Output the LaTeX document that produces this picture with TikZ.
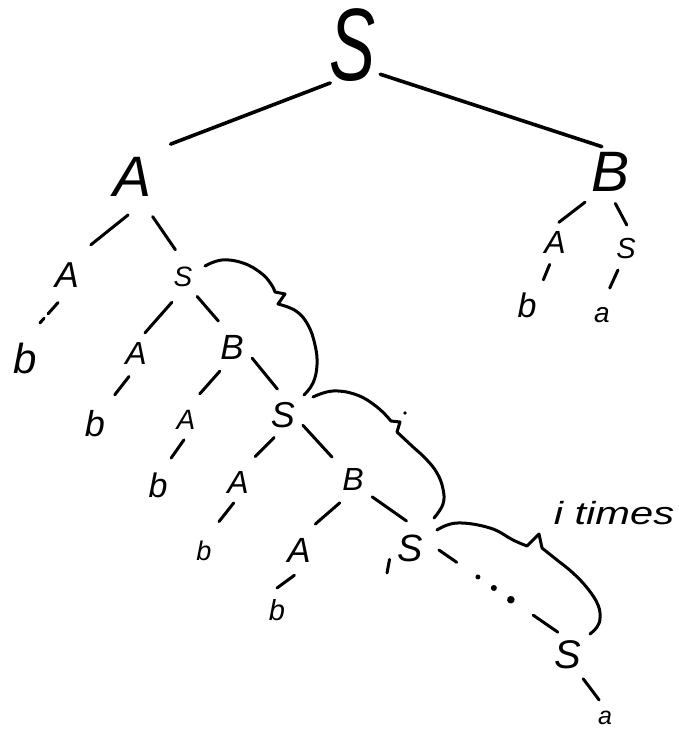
\documentclass[tikz,border=0pt]{standalone}
\usepackage{fontspec}
\setmainfont{Liberation Sans}
\usepackage{graphicx}
\usetikzlibrary{decorations.markings}
\newcommand\lbl[2]{\makebox[0pt]{\raisebox{-.5\height}[0pt][0pt]{\fontsize{#1}{#1}\selectfont\itshape #2}}}
\newcommand\conn[6]{\draw[edge, shorten <=#3pt, shorten >=#6pt] (#1.#2) -- (#4.#5);}
\begin{document}
\begin{tikzpicture}[x=1pt, y=-1pt,
  edge/.style={line width=3pt, line cap=round},
  topedge/.style={edge, line width=3.6pt},
  curly/.style={line width=3pt, line cap=round, line join=round},
  lab/.style={circle, inner sep=0pt, outer sep=0pt},
  rad/.style={minimum size=#1*2pt}]
\fill[white] (0,0) rectangle (678,731);
\useasboundingbox (0,0) rectangle (678,731);

% nodes
\node[lab,rad=40] (rS) at (353,45) {\lbl{103}{\scalebox{.67}[1]{S}}};
\node[lab,rad=38] (A1) at (133,177) {\lbl{57}{A}};
\node[lab,rad=27] (B1) at (611,172) {\lbl{57}{B}};
\node[lab,rad=29] (A2) at (67,275) {\lbl{36}{A}};
\node[lab,rad=24] (S2) at (183,277) {\lbl{28}{S}};
\node[lab,rad=38] (bL) at (25,358) {\lbl{42}{b}};
\node[lab,rad=22] (A3) at (136,353) {\lbl{32}{A}};
\node[lab,rad=23] (B3) at (232,347) {\lbl{35}{B}};
\node[lab,rad=34] (b3) at (95,423) {\lbl{36}{b}};
\node[lab,rad=20] (A4) at (186,420) {\lbl{28}{A}};
\node[lab,rad=22] (S3) at (283,415) {\lbl{36}{S}};
\node[lab,rad=30] (b4) at (158,485) {\lbl{34}{b}};
\node[lab,rad=21] (A5) at (238,482) {\lbl{32}{A}};
\node[lab,rad=26] (B5) at (353,479) {\lbl{32}{B}};
\node[lab,rad=33] (b5) at (204,551) {\lbl{27}{b}};
\node[lab,rad=26] (A6) at (299,550) {\lbl{35}{A}};
\node[lab,rad=29] (S6) at (410,548) {\lbl{38}{S}};
\node[lab,rad=22] (b6) at (277,610) {\lbl{29}{b}};
\node[lab,rad=25] (Sf) at (568,655) {\lbl{40}{S}};
\node[lab,rad=19] (af) at (605,718) {\lbl{25}{a}};
\node[lab,rad=20] (Ab) at (555,242) {\lbl{32}{A}};
\node[lab,rad=23] (Sb) at (626,248) {\lbl{29}{S}};
\node[lab,rad=30] (bb) at (527,305) {\lbl{34}{b}};
\node[lab,rad=28] (ab) at (602,315) {\lbl{28}{a}};
\node[inner sep=0pt] (it) at (614,513) {\scalebox{1.3}[1]{\fontsize{32}{32}\selectfont\itshape i times}};
\coordinate (stub) at (387,573);

% connectors
\draw[topedge, shorten <=5.6pt, shorten >=13pt] (rS.244) -- (A1.48);
\draw[topedge] (rS.313) -- (B1.110);
\conn{A1}{263}{0.3}{A2}{56}{9.8}
\conn{A1}{295}{6.3}{S2}{102}{4.6}
\draw[edge, dash pattern=on 15pt off 6pt on 20pt] (A2.252) -- (bL.67);
\conn{S2}{249}{3.9}{A3}{66}{0}
\conn{S2}{306}{0}{B3}{114}{6.5}
\conn{A3}{256}{2.7}{b3}{55}{0.4}
\conn{B3}{246}{4.3}{A4}{69}{10}
\conn{B3}{331}{0}{S3}{96}{5.2}
\conn{A4}{264}{0}{b4}{64}{0}
\conn{S3}{251}{2.4}{A5}{61}{9.9}
\conn{S3}{333}{0.4}{B5}{134}{4.4}
\conn{A5}{259}{0.4}{b5}{63}{0}
\conn{B5}{242}{1.3}{A6}{61}{4.9}
\conn{B5}{317}{0.2}{S6}{101}{-2.5}
\conn{A6}{259}{-0.5}{b6}{90}{0}
\draw[edge, shorten <=-7.8pt] (S6.221) -- (stub);
\draw[edge, dash pattern=on 21.6pt off 92.9pt on 50pt,
  postaction={decorate},
  decoration={markings,
    mark=at position 0.328 with {\fill (0,0) circle (2.5pt);},
    mark=at position 0.462 with {\fill (0,0) circle (3pt);},
    mark=at position 0.605 with {\fill (0,0) circle (3.8pt);}}]
  (S6.356) -- (Sf.114);
\conn{Sf}{302}{3.2}{af}{108}{0}
\conn{B1}{235}{13.2}{Ab}{79}{0}
\conn{B1}{274}{5.1}{Sb}{88}{0}
\conn{Ab}{258}{3.1}{bb}{57}{0}
\conn{Sb}{250}{0.4}{ab}{74}{0}

% braces
\draw[curly] plot[smooth, tension=0.7] coordinates {(205,266) (222,260) (243,263) (261,273) (271,284) (275,292)}
  -- (285,294) -- plot[smooth, tension=0.7] coordinates {(278,304) (296,311) (308,325) (315,345) (317,365) (313,383) (304,395)};
\draw[curly] plot[smooth, tension=0.7] coordinates {(313,397) (333,391) (357,395) (377,407) (391,421)}
  -- (400,422) -- plot[smooth, tension=0.7] coordinates {(397,432) (412,446) (426,459) (437,473) (443,489) (443,504) (434,518)};
\fill (405,413) circle (1.8pt);
\draw[curly] plot[smooth, tension=0.7] coordinates {(437,530) (457,523) (490,528) (513,540) (527,546)}
  -- (539,534) -- plot[smooth, tension=0.7] coordinates {(542,548) (557,560) (573,573) (588,589) (598,605) (600,618) (597,627) (590,634)};
\end{tikzpicture}
\end{document}
